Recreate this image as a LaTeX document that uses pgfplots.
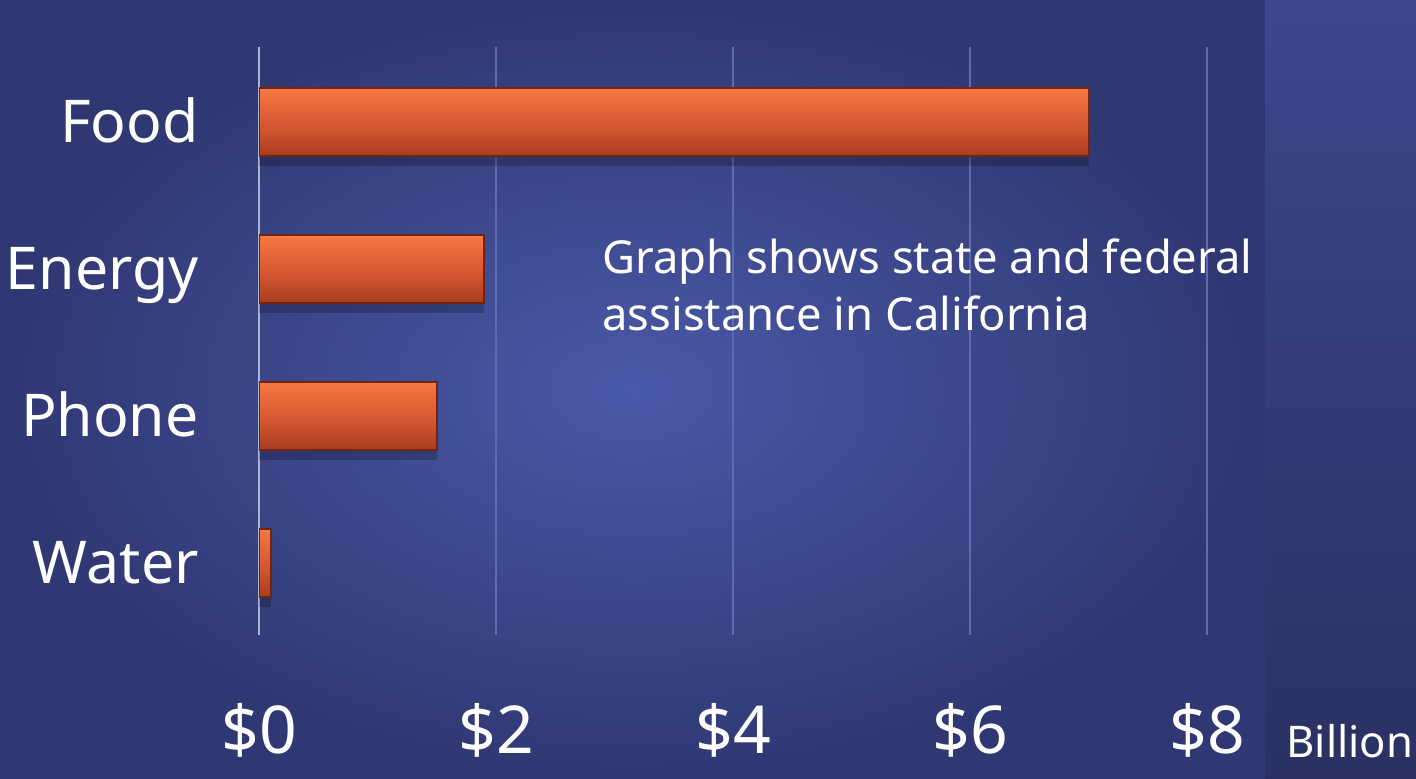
\documentclass[border=0pt]{standalone}
\usepackage{pgfplots}
\pgfplotsset{compat=1.18}
\usepackage{fontspec}
\setmainfont{Noto Sans}
\definecolor{bgin}{HTML}{4A59A8}
\definecolor{bgout}{HTML}{303873}
\definecolor{stripTop}{HTML}{3C478E}
\definecolor{stripBot}{HTML}{2A3162}
\definecolor{gridc}{HTML}{5F6BAE}
\definecolor{zeroc}{HTML}{A9B7CC}
\definecolor{bartopl}{HTML}{F99A6C}
\definecolor{bartop}{HTML}{F3743F}
\definecolor{barmid}{HTML}{D2552F}
\definecolor{barbot}{HTML}{9C361B}
\definecolor{barborder}{HTML}{722412}
\pgfdeclareverticalshading{barsh}{100bp}{color(0bp)=(barborder); color(7bp)=(barbot); color(20bp)=(barbot); color(45bp)=(barmid); color(72bp)=(bartop); color(88bp)=(bartopl); color(96bp)=(bartop); color(100bp)=(barborder)}
\begin{document}
\begin{tikzpicture}
\useasboundingbox (0,0) rectangle (708pt,389pt);
\shade[inner color=bgin, outer color=bgout] (0,0) rectangle (632.5pt,389pt);
\shade[top color=stripTop, bottom color=stripBot] (632.5pt,0) rectangle (708pt,389pt);
\begin{axis}[
  at={(129.5pt,71.5pt)}, anchor=south west,
  scale only axis, width=474pt, height=294pt,
  xmin=0, xmax=8, ymin=-0.49, ymax=3.51,
  axis line style={draw=none},
  tick style={draw=none},
  xtick={0,2,4,6,8},
  xmajorgrids,
  grid style={color=gridc, line width=0.6pt},
  extra x ticks={0},
  extra x tick labels={},
  extra x tick style={grid style={color=zeroc, line width=1pt}},
  /pgf/number format/assume math mode=true,
  xticklabel={\$\pgfmathprintnumber{\tick}},
  xticklabel style={font=\fontsize{33}{40}\selectfont, text=white, anchor=base, yshift=-59pt, inner sep=0pt},
  ytick={0,1,2,3},
  yticklabels={Water,Phone,Energy,Food},
  yticklabel style={font=\fontsize{29.5}{36}\selectfont, text=white, anchor=base east, inner sep=0pt, xshift=-30pt, yshift=-10.5pt},
  bar width=34pt,
  every axis plot/.append style={xbar},
]
\addplot[bar shift=-5pt, fill=black, fill opacity=0.22, draw=none]
  coordinates {(7,3) (1.9,2) (1.5,1) (0.1,0)};
\addplot[draw=barborder, line width=0.8pt, shade, shading=barsh] coordinates {(7,3)};
\addplot[draw=barborder, line width=0.8pt, shade, shading=barsh] coordinates {(1.9,2)};
\addplot[draw=barborder, line width=0.8pt, shade, shading=barsh] coordinates {(1.5,1)};
\addplot[draw=barborder, line width=0.8pt, shade, shading=barsh] coordinates {(0.1,0)};
\end{axis}
\node[anchor=base west, inner sep=0pt, text=white, font=\fontsize{22.7}{28}\selectfont] at (301pt,252.5pt) {Graph shows state and federal};
\node[anchor=base west, inner sep=0pt, text=white, font=\fontsize{22.7}{28}\selectfont] at (301pt,224pt) {assistance in California};
\node[anchor=base west, inner sep=0pt, text=white, font=\fontsize{21.8}{26}\selectfont] at (643pt,10.5pt) {Billion};
\end{tikzpicture}
\end{document}
